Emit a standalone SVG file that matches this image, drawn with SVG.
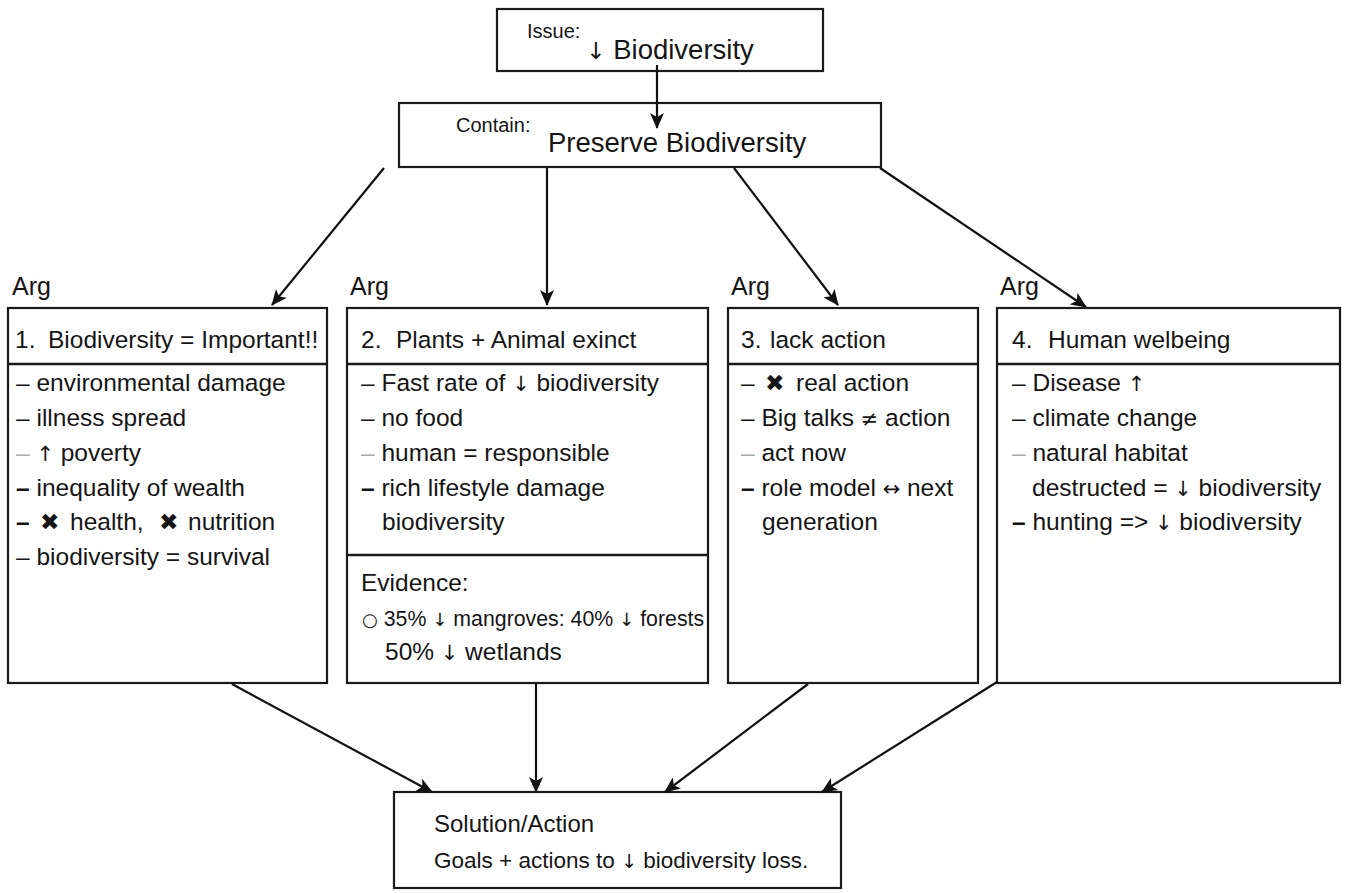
<svg xmlns="http://www.w3.org/2000/svg" width="1349" height="893" viewBox="0 0 1349 893">
<defs>
<style>
.box{fill:#fff;stroke:#1a1a1a;stroke-width:2.2}
.div{stroke:#1a1a1a;stroke-width:2.6}
text{font-family:"Liberation Sans",Arial,sans-serif;fill:#151515}
.hd{font-size:24.5px}
.bd{font-size:24.5px}
.ev{font-size:21.3px}
.sol{font-size:24px}
.sol2{font-size:22.5px}
.lbl{font-size:25px}
.sm{font-size:20px}
.big{font-size:27.5px}
.ar{font-family:"DejaVu Sans",sans-serif;font-size:0.85em;fill:#151515}
.x{font-family:"DejaVu Sans",sans-serif;font-size:0.95em;fill:#151515}
.g{fill:#aaa}
.conn{stroke:#111;stroke-width:2.2;fill:none;marker-end:url(#ah)}
</style>
<marker id="ah" markerUnits="userSpaceOnUse" markerWidth="16" markerHeight="14" viewBox="0 0 16 14" refX="15" refY="7" orient="auto">
<path d="M0,0 L16,7 L0,14 L4,7 z" fill="#111"/>
</marker>
</defs>
<rect width="1349" height="893" fill="#fff"/>

<g id="issue">
<rect class="box" x="497" y="9" width="326" height="62"/>
<text class="sm" x="527" y="38">Issue:</text>
<text class="big" x="586" y="59"><tspan class="ar">↓</tspan> Biodiversity</text>
</g>

<g id="contain">
<rect class="box" x="399" y="103" width="482" height="64"/>
<text class="sm" x="456" y="132">Contain:</text>
<text class="big" x="548" y="152">Preserve Biodiversity</text>
</g>

<g id="arg1">
<text class="lbl" x="12" y="295">Arg</text>
<rect class="box" x="8" y="308" width="319" height="375"/>
<line class="div" x1="8" y1="364" x2="327" y2="364"/>
<text class="hd" y="348"><tspan x="15">1.</tspan><tspan x="48">Biodiversity = Important!!</tspan></text>
<text class="bd" x="16" y="391">– environmental damage</text>
<text class="bd" x="16" y="426">– illness spread</text>
<text class="bd" x="16" y="461"><tspan class="g">–</tspan> <tspan class="ar">↑</tspan> poverty</text>
<text class="bd" x="16" y="496"><tspan font-weight="bold">–</tspan> inequality of wealth</text>
<text class="bd" y="530"><tspan x="16" font-weight="bold">–</tspan><tspan x="40" class="x">✖</tspan><tspan x="70">health,</tspan><tspan x="159" class="x">✖</tspan><tspan x="188">nutrition</tspan></text>
<text class="bd" x="16" y="565">– biodiversity = survival</text>
</g>

<g id="arg2">
<text class="lbl" x="350" y="295">Arg</text>
<rect class="box" x="347" y="308" width="361" height="375"/>
<line class="div" x1="347" y1="364" x2="708" y2="364"/>
<line class="div" x1="347" y1="555" x2="708" y2="555"/>
<text class="hd" y="348"><tspan x="361">2.</tspan><tspan x="396">Plants + Animal exinct</tspan></text>
<text class="bd" x="361" y="391">– Fast rate of <tspan class="ar">↓</tspan> biodiversity</text>
<text class="bd" x="361" y="426">– no food</text>
<text class="bd" x="361" y="461"><tspan class="g">–</tspan> human = responsible</text>
<text class="bd" x="361" y="496"><tspan font-weight="bold">–</tspan> rich lifestyle damage</text>
<text class="bd" x="382" y="530">biodiversity</text>
<text class="bd" x="361" y="591">Evidence:</text>
<text class="ev" x="362" y="626"><tspan class="ar">○</tspan> 35% <tspan class="ar">↓</tspan> mangroves: 40% <tspan class="ar">↓</tspan> forests</text>
<text class="bd" x="385" y="660">50% <tspan class="ar">↓</tspan> wetlands</text>
</g>

<g id="arg3">
<text class="lbl" x="731" y="295">Arg</text>
<rect class="box" x="728" y="308" width="250" height="375"/>
<line class="div" x1="728" y1="364" x2="978" y2="364"/>
<text class="hd" y="348"><tspan x="741">3.</tspan><tspan x="770">lack action</tspan></text>
<text class="bd" y="391"><tspan x="741">–</tspan><tspan x="765" class="x">✖</tspan><tspan x="796">real action</tspan></text>
<text class="bd" x="741" y="426">– Big talks <tspan class="ar">≠</tspan> action</text>
<text class="bd" x="741" y="461"><tspan class="g">–</tspan> act now</text>
<text class="bd" x="741" y="496"><tspan font-weight="bold">–</tspan> role model <tspan class="ar">↔</tspan> next</text>
<text class="bd" x="762" y="530">generation</text>
</g>

<g id="arg4">
<text class="lbl" x="1000" y="295">Arg</text>
<rect class="box" x="997" y="308" width="343" height="375"/>
<line class="div" x1="997" y1="364" x2="1340" y2="364"/>
<text class="hd" y="348"><tspan x="1012">4.</tspan><tspan x="1048">Human welbeing</tspan></text>
<text class="bd" x="1012" y="391">– Disease <tspan class="ar">↑</tspan></text>
<text class="bd" x="1012" y="426">– climate change</text>
<text class="bd" x="1012" y="461"><tspan class="g">–</tspan> natural habitat</text>
<text class="bd" x="1032" y="496">destructed = <tspan class="ar">↓</tspan> biodiversity</text>
<text class="bd" x="1012" y="530"><tspan font-weight="bold">–</tspan> hunting =&gt; <tspan class="ar">↓</tspan> biodiversity</text>
</g>

<g id="solution">
<rect class="box" x="394" y="792" width="447" height="96"/>
<text class="sol" x="434" y="832">Solution/Action</text>
<text class="sol2" x="434" y="868">Goals + actions to <tspan class="ar">↓</tspan> biodiversity loss.</text>
</g>

<g id="connectors">
<line class="conn" x1="657" y1="65" x2="657" y2="128"/>
<line class="conn" x1="384" y1="168" x2="272" y2="305"/>
<line class="conn" x1="547" y1="168" x2="547" y2="305"/>
<line class="conn" x1="734" y1="168" x2="838" y2="305"/>
<line class="conn" x1="880" y1="168" x2="1086" y2="307"/>
<line class="conn" x1="232" y1="684" x2="432" y2="792"/>
<line class="conn" x1="536" y1="684" x2="536" y2="792"/>
<line class="conn" x1="808" y1="684" x2="665" y2="792"/>
<line class="conn" x1="997" y1="682" x2="822" y2="792"/>
</g>
</svg>
